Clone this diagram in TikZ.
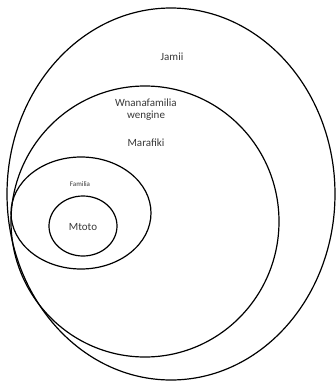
\documentclass[tikz,border=0pt]{standalone}
\usepackage{fontspec}
\setmainfont{Carlito}
\usepackage{tikz}

\begin{document}
\begin{tikzpicture}[x=1pt,y=-1pt,
		ring/.style={line width=1.2pt, black},
		label/.style={text=black!78, font=\fontsize{11}{12}\selectfont, align=center, inner sep=0pt}]
		
		\useasboundingbox (0,0) rectangle (336,381);
		
		% Kreise von aussen nach innen
		\draw[ring] (171,194) ellipse [x radius=164pt, y radius=186pt];
		\draw[ring] (145,221.5) ellipse [x radius=134pt, y radius=135.5pt];
		\draw[ring] (81,213) ellipse [x radius=70pt, y radius=56pt];
		\draw[ring] (83,226) ellipse [x radius=34pt, y radius=30pt];
		
		% Beschriftungen
		\node[label] (jamii) at (172,57) {Jamii};
		\node[label] (wengine) at (146,110) {Wnanafamilia\\wengine};
		\node[label] (marafiki) at (146,143) {Marafiki};
		\node[label, font=\fontsize{7}{8}\selectfont] (familia) at (80,184) {Familia};
		\node[label] (mtoto) at (83,227) {Mtoto};
		
	\end{tikzpicture}
\end{document}
